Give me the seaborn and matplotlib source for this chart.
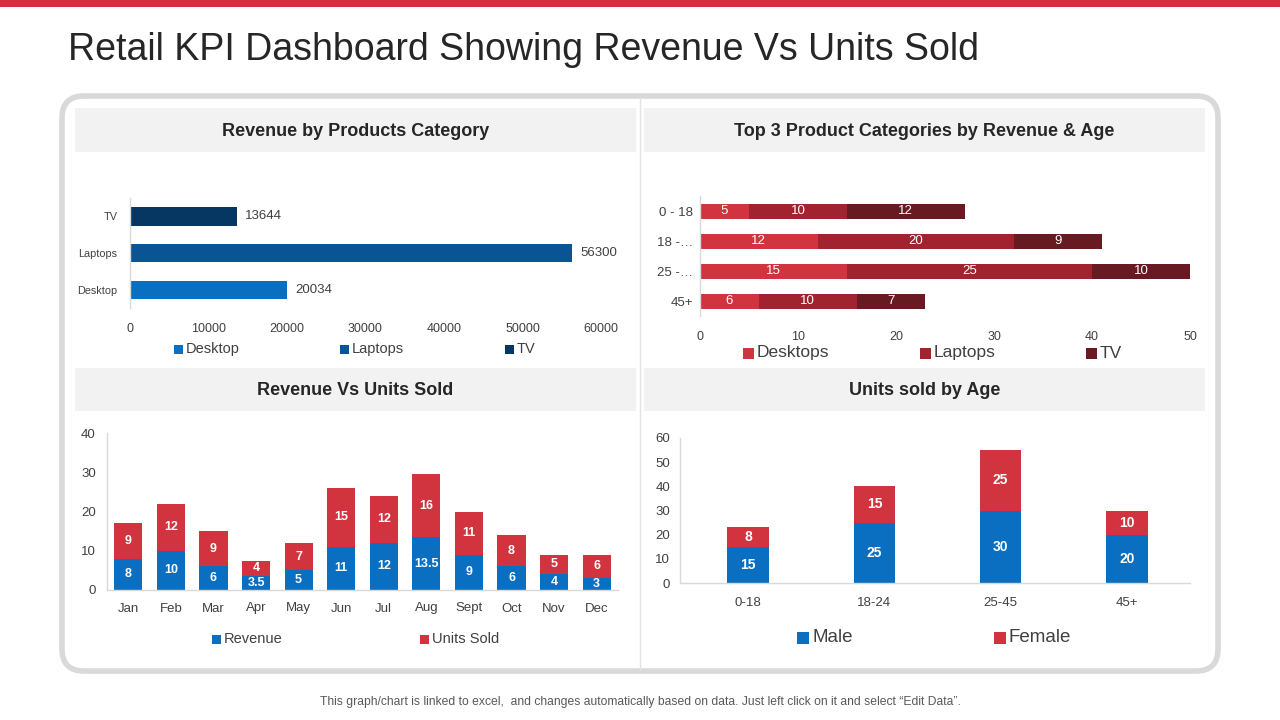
import numpy as np
import pandas as pd
import matplotlib.pyplot as plt
import seaborn as sns
from matplotlib.patches import FancyBboxPatch, Rectangle

# --- data ---------------------------------------------------------------
products = ["TV", "Laptops", "Desktop"]
product_revenue = [13644, 56300, 20034]

age_groups = ["0 - 18", "18 -\u2026", "25 -\u2026", "45+"]
age_desktops = [5, 12, 15, 6]
age_laptops = [10, 20, 25, 10]
age_tv = [12, 9, 10, 7]

months = ["Jan", "Feb", "Mar", "Apr", "May", "Jun", "Jul", "Aug", "Sept", "Oct", "Nov", "Dec"]
month_revenue = [8, 10, 6, 3.5, 5, 11, 12, 13.5, 9, 6, 4, 3]
month_units = [9, 12, 9, 4, 7, 15, 12, 16, 11, 8, 5, 6]

age_bins = ["0-18", "18-24", "25-45", "45+"]
units_male = [15, 25, 30, 20]
units_female = [8, 15, 25, 10]

# --- style --------------------------------------------------------------
sns.set_theme(style="white")
plt.rcParams['font.family'] = ['Liberation Sans', 'DejaVu Sans']

BLUE = "#0b6fc1"
BLUE2 = "#0a5394"
NAVY = "#063662"
RED = "#d1343f"
RED2 = "#a12330"
RED3 = "#681a22"
GRID = "#d9d9d9"
TXT = "#404040"

W, H = 1280, 720
fig = plt.figure(figsize=(W / 100, H / 100), dpi=100)


def box(l, t, r, b):
    return [l / W, 1 - b / H, (r - l) / W, (b - t) / H]


def inch_rect(l, t, r, b, **kw):
    return Rectangle((l / 100, (H - b) / 100), (r - l) / 100, (b - t) / 100,
                     transform=fig.dpi_scale_trans, **kw)


def legend_row(labels, colors, xs, y, size, fontsize):
    for lab, c, x in zip(labels, colors, xs):
        fig.patches.append(inch_rect(x - size / 2, y - size / 2, x + size / 2, y + size / 2,
                                     fc=c, ec="none", zorder=2))
        fig.text((x + size / 2 + 3) / W, 1 - y / H, lab, va="center", ha="left",
                 fontsize=fontsize, color=TXT)


def clean(ax, left=True, bottom=False):
    sns.despine(ax=ax, top=True, right=True, left=not left, bottom=not bottom)
    for s in ["left", "bottom"]:
        ax.spines[s].set_color(GRID)
        ax.spines[s].set_linewidth(1)
    ax.patch.set_alpha(0)
    ax.set_xlabel("")
    ax.set_ylabel("")
    ax.tick_params(length=0, colors=TXT)


# background decorations
fig.patches.append(inch_rect(0, 0, W, 7, fc="#d3313f", ec="none", zorder=-2))
frame = FancyBboxPatch((62 / 100, (H - 671) / 100), (1218 - 62) / 100, (671 - 96) / 100,
                       boxstyle="round,pad=0,rounding_size=0.22", transform=fig.dpi_scale_trans,
                       fc="white", ec=GRID, lw=4, zorder=-2)
fig.patches.append(frame)
fig.lines.append(plt.Line2D([640 / W, 640 / W], [1 - 97 / H, 1 - 670 / H], color="#e3e3e3",
                            lw=1, transform=fig.transFigure, zorder=-1))
headers = [(75, 108, 636, 152, "Revenue by Products Category"),
           (644, 108, 1205, 152, "Top 3 Product Categories by Revenue & Age"),
           (75, 368, 636, 411, "Revenue Vs Units Sold"),
           (644, 368, 1205, 411, "Units sold by Age")]
for l, t, r, b, txt in headers:
    fig.patches.append(inch_rect(l, t, r, b, fc="#f2f2f2", ec="none", zorder=-1))
    fig.text((l + r) / 2 / W, 1 - (t + b + 2) / 2 / H, txt, ha="center", va="center",
             fontsize=13, fontweight="bold", color="#262626")

fig.text(68 / W, 1 - 50 / H, "Retail KPI Dashboard Showing Revenue Vs Units Sold",
         ha="left", va="center", fontsize=27, color="#262626")
fig.text(640 / W, 1 - 702 / H,
         "This graph/chart is linked to excel,  and changes automatically based on data. "
         "Just left click on it and select \u201cEdit Data\u201d.",
         ha="center", va="center", fontsize=8.7, color="#595959")

# --- chart 1: revenue by product ---------------------------------------
df1 = pd.DataFrame({"product": products, "revenue": product_revenue})
ax1 = fig.add_axes(box(130, 198, 601, 308))
sns.barplot(data=df1, x="revenue", y="product", hue="product", order=products,
            palette={"TV": NAVY, "Laptops": BLUE2, "Desktop": BLUE}, width=0.5,
            saturation=1, linewidth=0, legend=False, ax=ax1)
for cont in ax1.containers:
    ax1.bar_label(cont, fmt="%d", padding=6, fontsize=9.5, color=TXT)
ax1.set_xlim(0, 60000)
ax1.set_xticks(range(0, 60001, 10000))
ax1.set_ylim(2.5, -0.5)
clean(ax1)
ax1.tick_params(axis="x", labelsize=9, pad=11)
ax1.tick_params(axis="y", labelsize=7.8, pad=9)
legend_row(["Desktop", "Laptops", "TV"], [BLUE, BLUE2, NAVY], [178, 344, 509], 349, 9, 10.5)

# --- chart 2: categories by age (stacked horizontal) -------------------
df2 = pd.DataFrame({"age": age_groups, "desktops": age_desktops,
                    "laptops": age_laptops, "tv": age_tv})
df2["dl"] = df2["desktops"] + df2["laptops"]
df2["total"] = df2["dl"] + df2["tv"]
ax2 = fig.add_axes(box(700, 196, 1190, 316))
for col, c in [("total", RED3), ("dl", RED2), ("desktops", RED)]:
    sns.barplot(data=df2, x=col, y="age", order=age_groups, color=c, width=0.5,
                saturation=1, linewidth=0, ax=ax2)
for i, row in df2.iterrows():
    for start, val in [(0, row["desktops"]), (row["desktops"], row["laptops"]),
                       (row["dl"], row["tv"])]:
        ax2.text(start + val / 2, i, f"{val:g}", ha="center", va="center",
                 fontsize=9.5, color="white")
ax2.set_xlim(0, 50)
ax2.set_xticks(range(0, 51, 10))
ax2.set_ylim(3.5, -0.5)
clean(ax2)
ax2.tick_params(axis="x", labelsize=9, pad=11)
ax2.tick_params(axis="y", labelsize=9.5, pad=5)
legend_row(["Desktops", "Laptops", "TV"], [RED, RED2, RED3], [748, 925, 1091], 353, 11, 12.5)

# --- chart 3: revenue vs units sold ------------------------------------
df3 = pd.DataFrame({"month": months, "revenue": month_revenue, "units": month_units})
df3["total"] = df3["revenue"] + df3["units"]
ax3 = fig.add_axes(box(107, 433, 618, 590))
sns.barplot(data=df3, x="month", y="total", order=months, color=RED, width=0.66,
            saturation=1, linewidth=0, ax=ax3)
sns.barplot(data=df3, x="month", y="revenue", order=months, color=BLUE, width=0.66,
            saturation=1, linewidth=0, ax=ax3)
for i, row in df3.iterrows():
    ax3.text(i, row["revenue"] / 2, f"{row['revenue']:g}", ha="center", va="center",
             fontsize=9, fontweight="bold", color="white")
    ax3.text(i, row["revenue"] + row["units"] / 2, f"{row['units']:g}", ha="center",
             va="center", fontsize=9, fontweight="bold", color="white")
ax3.set_ylim(0, 40)
ax3.set_yticks(range(0, 41, 10))
ax3.set_xlim(-0.5, 11.5)
clean(ax3, bottom=True)
ax3.tick_params(axis="x", labelsize=9.5, pad=9)
ax3.tick_params(axis="y", labelsize=9.5, pad=8)
legend_row(["Revenue", "Units Sold"], [BLUE, RED], [216, 424], 639, 9, 10.5)

# --- chart 4: units sold by age ----------------------------------------
df4 = pd.DataFrame({"age": age_bins, "male": units_male, "female": units_female})
df4["total"] = df4["male"] + df4["female"]
ax4 = fig.add_axes(box(680, 438, 1190, 583))
sns.barplot(data=df4, x="age", y="total", order=age_bins, color=RED, width=0.33,
            saturation=1, linewidth=0, ax=ax4)
sns.barplot(data=df4, x="age", y="male", order=age_bins, color=BLUE, width=0.33,
            saturation=1, linewidth=0, ax=ax4)
for i, row in df4.iterrows():
    ax4.text(i, row["male"] / 2, f"{row['male']:g}", ha="center", va="center",
             fontsize=10, fontweight="bold", color="white")
    ax4.text(i, row["male"] + row["female"] / 2, f"{row['female']:g}", ha="center",
             va="center", fontsize=10, fontweight="bold", color="white")
ax4.set_ylim(0, 60)
ax4.set_yticks(range(0, 61, 10))
ax4.set_xlim(-0.54, 3.5)
clean(ax4, bottom=True)
ax4.tick_params(axis="x", labelsize=9.5, pad=10)
ax4.tick_params(axis="y", labelsize=9.5, pad=7)
legend_row(["Male", "Female"], [BLUE, RED], [803, 1000], 638, 12, 13.5)

fig.savefig("out.png", dpi=100)
